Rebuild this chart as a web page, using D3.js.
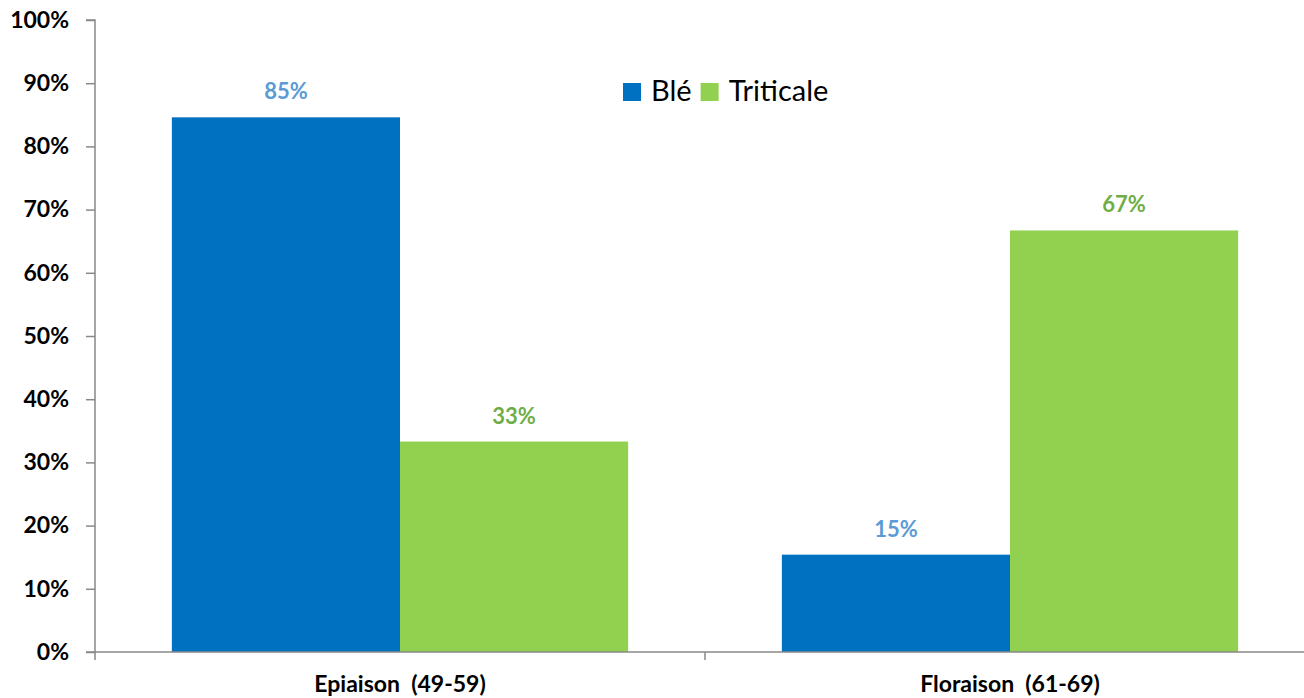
<!DOCTYPE html>
<html><head><meta charset="utf-8">
<script src="https://cdn.jsdelivr.net/npm/d3@7"></script>
<style>body{margin:0;background:#fff}svg{display:block}</style>
</head><body>
<svg id="c" width="1304" height="698"></svg>
<script>
const categories = ["Epiaison  (49-59)", "Floraison  (61-69)"];
const seriesNames = ["Blé", "Triticale"];
const ble = [84.6, 15.4];
const triticale = [33.3, 66.7];
const valueLabels = [["85%", "15%"], ["33%", "67%"]];
const yTicks = [0,10,20,30,40,50,60,70,80,90,100];
const colors = ["#0070C0", "#92D050"];
const labelColors = ["#5B9BD5", "#70AD47"];

const font = "Lato, 'Open Sans', sans-serif";
const svg = d3.select("#c");
const m = {l:95, r:1315, t:20, b:652};
const y = d3.scaleLinear().domain([0,100]).range([m.b, m.t]);
const x0 = d3.scaleBand().domain(categories).range([m.l, m.r]).padding(0);
const x1 = d3.scaleBand().domain(seriesNames).range([x0.bandwidth()*0.126, x0.bandwidth()*0.874]).padding(0);

// y axis
const yAxis = d3.axisLeft(y).tickValues(yTicks).tickSize(9).tickPadding(17).tickFormat(d => d + "%");
const gy = svg.append("g").attr("transform", `translate(${m.l},0)`).call(yAxis);
gy.select(".domain").attr("stroke", "#888").attr("stroke-width", 1.5).attr("d", `M-9,${m.t}H0V${m.b+8}`);
gy.selectAll(".tick line").attr("stroke", "#888").attr("stroke-width", 1.5);
gy.selectAll(".tick text").attr("fill", "#000").style("font", `bold 23px ${font}`);

// bars
const data = [ble, triticale];
categories.forEach((c, ci) => {
  const g = svg.append("g").attr("transform", `translate(${x0(c)},0)`);
  seriesNames.forEach((s, si) => {
    const v = data[si][ci];
    g.append("rect").attr("x", x1(s)).attr("y", y(v))
      .attr("width", x1.bandwidth()).attr("height", y(0) - y(v)).attr("fill", colors[si]);
    g.append("text").attr("x", x1(s) + x1.bandwidth()/2).attr("y", y(v) - 18)
      .attr("text-anchor", "middle").attr("fill", labelColors[si])
      .style("font", `bold 22px ${font}`).text(valueLabels[si][ci]);
  });
});

// x axis
const gx = svg.append("g").attr("transform", `translate(0,${m.b})`);
gx.append("line").attr("x1", m.l - 9).attr("x2", 1304).attr("y1", 0).attr("y2", 0).attr("stroke", "#888").attr("stroke-width", 1.5);
[x0.range()[0] + x0.bandwidth()].forEach(px => {
  gx.append("line").attr("x1", px).attr("x2", px).attr("y1", 0).attr("y2", 8).attr("stroke", "#888").attr("stroke-width", 1.5);
});
categories.forEach(c => {
  gx.append("text").attr("x", x0(c) + x0.bandwidth()/2).attr("y", 40)
    .attr("text-anchor", "middle").attr("fill", "#000").attr("xml:space", "preserve")
    .style("white-space", "pre").style("font", `bold 23px ${font}`).text(c);
});

// legend
const lg = svg.append("g").attr("transform", "translate(623,83)");
let lx = 0;
seriesNames.forEach((s, i) => {
  lg.append("rect").attr("x", lx).attr("y", 0).attr("width", 18).attr("height", 18).attr("fill", colors[i]);
  const t = lg.append("text").attr("x", lx + 28).attr("y", 18).attr("fill", "#000")
    .style("font", `29px ${font}`).text(s);
  lx += 28 + t.node().getComputedTextLength() + 9;
});
</script>
</body></html>
